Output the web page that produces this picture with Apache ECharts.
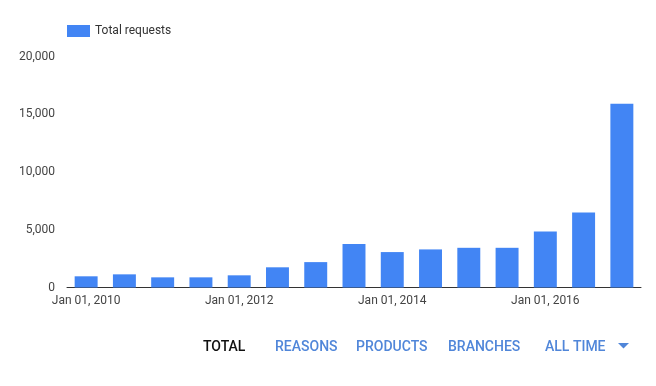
<!DOCTYPE html>
<html><head><meta charset="utf-8">
<script src="https://cdn.jsdelivr.net/npm/echarts@6/dist/echarts.min.js"></script>
<style>html,body{margin:0;padding:0;background:#fff}#c{width:656px;height:386px}</style>
</head><body><div id="c"></div>
<script>
var categories = ['Jan 01, 2010','Jul 01, 2010','Jan 01, 2011','Jul 01, 2011','Jan 01, 2012','Jul 01, 2012','Jan 01, 2013','Jul 01, 2013','Jan 01, 2014','Jul 01, 2014','Jan 01, 2015','Jul 01, 2015','Jan 01, 2016','Jul 01, 2016','Jan 01, 2017'];
var totalRequests = [970, 1140, 880, 880, 1055, 1750, 2200, 3760, 3070, 3300, 3440, 3440, 4860, 6500, 15930];
var yTicks = [0, 5000, 10000, 15000, 20000];
var tabs = ['TOTAL','REASONS','PRODUCTS','BRANCHES','ALL TIME'];

var chart = echarts.init(document.getElementById('c'), null, {renderer:'canvas'});
var tabX = [203, 275, 356, 448, 545];
var graphics = tabs.map(function(t, i){
  return {type:'text', left: tabX[i], top: 340, style:{text:t, fontFamily:'Roboto', fontWeight:500, fontSize:14, fill: i===0 ? '#111' : '#5086d9'}};
});
graphics.push({type:'polygon', shape:{points:[[618,343],[629,343],[623.5,348.5]]}, style:{fill:'#5086d9'}});
chart.setOption({
  animation:false,
  textStyle:{fontFamily:'Roboto'},
  legend:{left:67, top:25, padding:0, itemWidth:23, itemHeight:12, itemGap:6, icon:'rect',
    textStyle:{fontSize:12, color:'#333', fontFamily:'Roboto'}, data:['Total requests']},
  grid:{left:67, right:15, top:56.7, bottom:98.5, containLabel:false},
  xAxis:{type:'category', data:categories,
    axisLine:{lineStyle:{color:'#333', width:1}}, axisTick:{show:false},
    axisLabel:{interval:3, color:'#444', fontSize:12, margin:7, fontFamily:'Roboto'}},
  yAxis:{type:'value', min:yTicks[0], max:yTicks[yTicks.length-1], interval:5000,
    axisLine:{show:false}, axisTick:{show:false}, splitLine:{show:false},
    axisLabel:{color:'#444', fontSize:12, margin:12, fontFamily:'Roboto',
      formatter:function(v){return v.toLocaleString('en-US');}}},
  series:[{name:'Total requests', type:'bar', data:totalRequests, barWidth:'60%',
    itemStyle:{color:'#4285f4'}}],
  graphic:graphics
});
</script></body></html>
